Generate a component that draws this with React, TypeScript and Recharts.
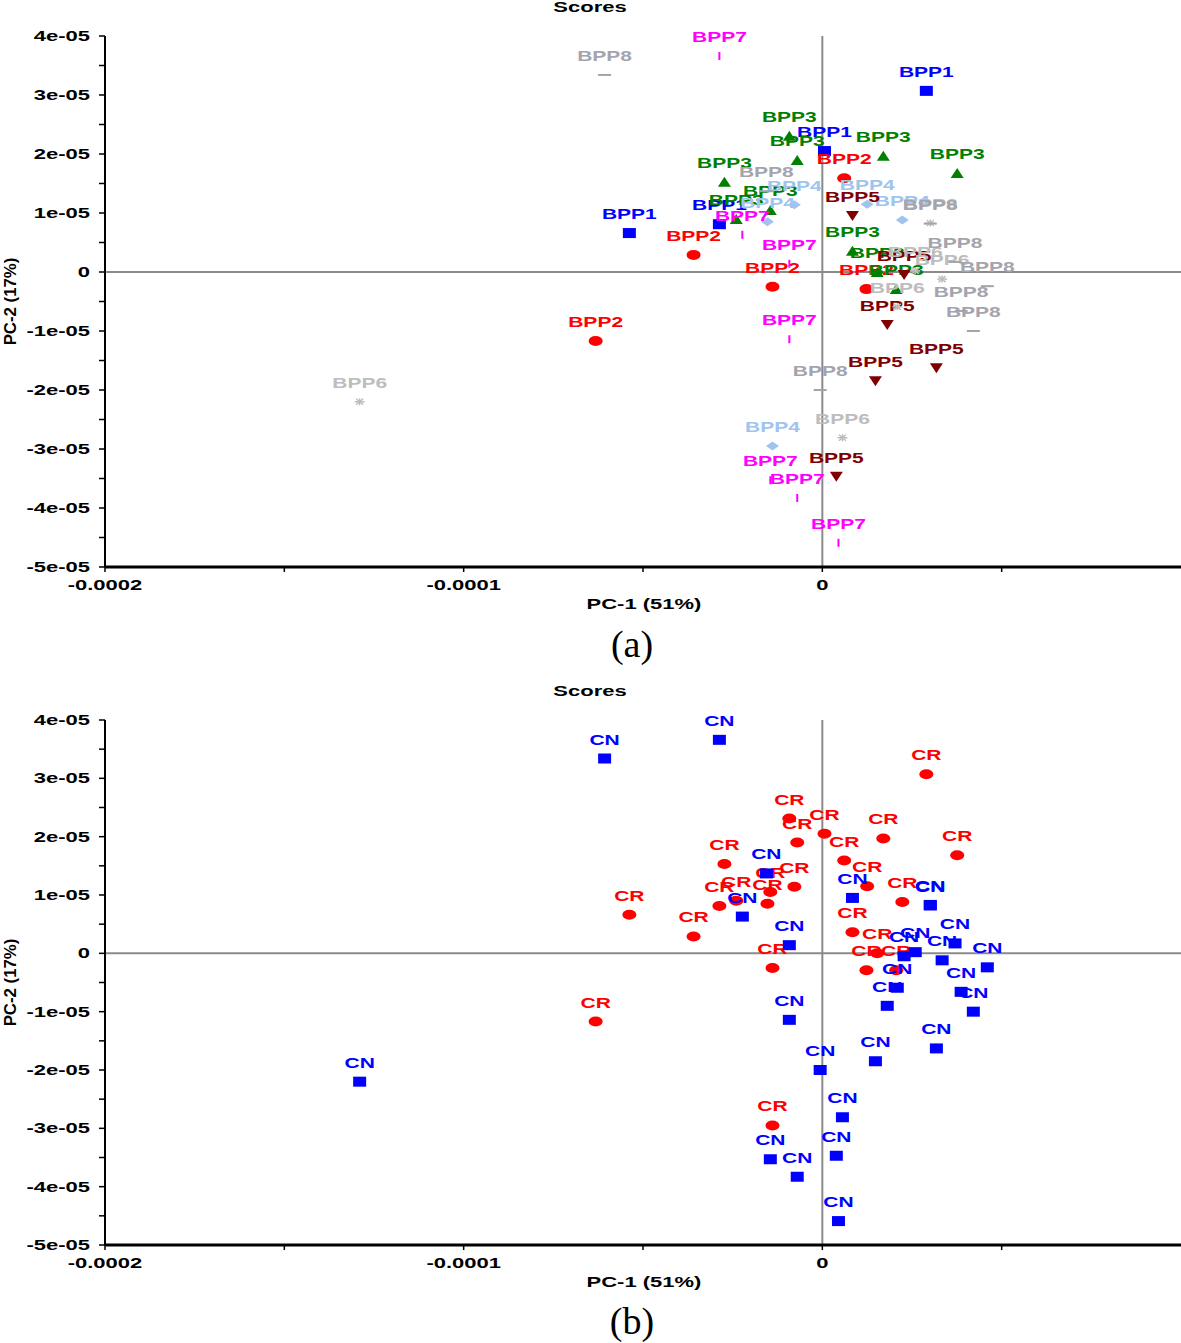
import React from "react";
import { ScatterChart, Scatter, XAxis, YAxis, ReferenceLine } from "recharts";

type Pt = { x: number; y: number };

const bpp1: Pt[] = [
  { x: 2.9e-5, y: 3.07e-5 },
  { x: 0.06e-5, y: 2.05e-5 },
  { x: -5.38e-5, y: 0.66e-5 },
  { x: -2.87e-5, y: 0.81e-5 },
];
const bpp2: Pt[] = [
  { x: 0.61e-5, y: 1.59e-5 },
  { x: -3.59e-5, y: 0.29e-5 },
  { x: -1.39e-5, y: -0.25e-5 },
  { x: -6.32e-5, y: -1.17e-5 },
  { x: 1.23e-5, y: -0.29e-5 },
];
const bpp3: Pt[] = [
  { x: -0.92e-5, y: 2.31e-5 },
  { x: -0.7e-5, y: 1.9e-5 },
  { x: 1.7e-5, y: 1.97e-5 },
  { x: 3.76e-5, y: 1.68e-5 },
  { x: -2.73e-5, y: 1.53e-5 },
  { x: -1.45e-5, y: 1.05e-5 },
  { x: -2.4e-5, y: 0.9e-5 },
  { x: 0.84e-5, y: 0.36e-5 },
  { x: 1.53e-5, y: 0.0 },
  { x: 2.06e-5, y: -0.29e-5 },
];
const bpp4: Pt[] = [
  { x: -0.78e-5, y: 1.14e-5 },
  { x: -1.53e-5, y: 0.85e-5 },
  { x: 1.25e-5, y: 1.15e-5 },
  { x: 2.23e-5, y: 0.88e-5 },
  { x: -1.39e-5, y: -2.95e-5 },
];
const bpp5: Pt[] = [
  { x: 0.84e-5, y: 0.95e-5 },
  { x: 2.28e-5, y: -0.05e-5 },
  { x: 1.81e-5, y: -0.9e-5 },
  { x: 3.18e-5, y: -1.63e-5 },
  { x: 1.48e-5, y: -1.85e-5 },
  { x: 0.39e-5, y: -3.47e-5 },
];
const bpp6: Pt[] = [
  { x: -12.9e-5, y: -2.2e-5 },
  { x: 0.56e-5, y: -2.81e-5 },
  { x: 3.34e-5, y: -0.12e-5 },
  { x: 3.01e-5, y: 0.83e-5 },
  { x: 2.09e-5, y: -0.59e-5 },
  { x: 2.59e-5, y: 0.02e-5 },
];
const bpp7: Pt[] = [
  { x: -2.87e-5, y: 3.66e-5 },
  { x: -2.23e-5, y: 0.63e-5 },
  { x: -0.92e-5, y: 0.14e-5 },
  { x: -0.92e-5, y: -1.14e-5 },
  { x: -1.45e-5, y: -3.53e-5 },
  { x: -0.7e-5, y: -3.83e-5 },
  { x: 0.45e-5, y: -4.59e-5 },
];
const bpp8: Pt[] = [
  { x: -6.07e-5, y: 3.34e-5 },
  { x: -1.56e-5, y: 1.37e-5 },
  { x: -0.06e-5, y: -2.0e-5 },
  { x: 4.21e-5, y: -1.0e-5 },
  { x: 4.6e-5, y: -0.24e-5 },
  { x: 3.87e-5, y: -0.66e-5 },
  { x: 3.7e-5, y: 0.17e-5 },
  { x: 3.01e-5, y: 0.82e-5 },
];

const xTicks = [-0.0002, -0.00015, -0.0001, -0.00005, 0, 0.00005];
const xTickLabels = ["-0.0002", "", "-0.0001", "", "0", ""];
const yTicks = [
  -5e-5, -4.5e-5, -4e-5, -3.5e-5, -3e-5, -2.5e-5, -2e-5, -1.5e-5, -1e-5, -0.5e-5,
  0, 0.5e-5, 1e-5, 1.5e-5, 2e-5, 2.5e-5, 3e-5, 3.5e-5, 4e-5,
];
const yTickLabels = [
  "-5e-05", "", "-4e-05", "", "-3e-05", "", "-2e-05", "", "-1e-05", "",
  "0", "", "1e-05", "", "2e-05", "", "3e-05", "", "4e-05",
];

type Mark = "square" | "circle" | "up" | "down" | "diamond" | "star" | "vbar" | "hbar";
type Series = { name: string; data: Pt[]; color: string; mark: Mark };

const bppSeries: Series[] = [
  { name: "BPP1", data: bpp1, color: "#0000ff", mark: "square" },
  { name: "BPP2", data: bpp2, color: "#ff0000", mark: "circle" },
  { name: "BPP3", data: bpp3, color: "#008000", mark: "up" },
  { name: "BPP4", data: bpp4, color: "#9fc4ee", mark: "diamond" },
  { name: "BPP5", data: bpp5, color: "#800000", mark: "down" },
  { name: "BPP6", data: bpp6, color: "#bdbdbd", mark: "star" },
  { name: "BPP7", data: bpp7, color: "#ff00ff", mark: "vbar" },
  { name: "BPP8", data: bpp8, color: "#a4a4ae", mark: "hbar" },
];

const groupSeries: Series[] = [
  { name: "CR", data: [...bpp1, ...bpp2, ...bpp3, ...bpp4], color: "#ff0000", mark: "circle" },
  { name: "CN", data: [...bpp5, ...bpp6, ...bpp7, ...bpp8], color: "#0000ff", mark: "square" },
];

const FONT = "'Liberation Sans', Arial, sans-serif";

// arial bold advance widths (1/1000 em), the picture is stretched sideways
const adv: Record<string, number> = {
  B: 722, P: 667, C: 722, N: 722, R: 722, S: 667, c: 556, o: 611, r: 389,
  e: 556, s: 556, "-": 333, ".": 278, " ": 278, "(": 333, ")": 333, "%": 889,
};
function textW(s: string, size: number, stretch: number) {
  let w = 0;
  for (const ch of s) w += adv[ch] ?? 556;
  return (w / 1000) * size * stretch;
}

function Wide({ x, y, text, size = 14, stretch = 1.57, anchor = "middle", fill = "#000", rotate }: any) {
  return (
    <text
      x={x}
      y={y}
      textAnchor={anchor}
      fontFamily={FONT}
      fontWeight="bold"
      fontSize={size}
      fill={fill}
      textLength={textW(text, size, stretch)}
      lengthAdjust="spacingAndGlyphs"
      transform={rotate ? `rotate(${rotate} ${x} ${y})` : undefined}
    >
      {text}
    </text>
  );
}

function drawMark(mark: Mark, cx: number, cy: number, c: string) {
  switch (mark) {
    case "square":
      return <rect x={cx - 6.5} y={cy - 5} width={13} height={10} fill={c} />;
    case "circle":
      return <ellipse cx={cx} cy={cy} rx={7} ry={5} fill={c} />;
    case "up":
      return <polygon points={`${cx - 6.5},${cy + 5} ${cx + 6.5},${cy + 5} ${cx},${cy - 5}`} fill={c} />;
    case "down":
      return <polygon points={`${cx - 6.5},${cy - 5} ${cx + 6.5},${cy - 5} ${cx},${cy + 5}`} fill={c} />;
    case "diamond":
      return <polygon points={`${cx - 6.5},${cy} ${cx},${cy - 4.5} ${cx + 6.5},${cy} ${cx},${cy + 4.5}`} fill={c} />;
    case "star":
      return (
        <g stroke={c} strokeWidth={1.5}>
          <line x1={cx - 5} y1={cy} x2={cx + 5} y2={cy} />
          <line x1={cx} y1={cy - 3.5} x2={cx} y2={cy + 3.5} />
          <line x1={cx - 3.5} y1={cy - 3} x2={cx + 3.5} y2={cy + 3} />
          <line x1={cx - 3.5} y1={cy + 3} x2={cx + 3.5} y2={cy - 3} />
        </g>
      );
    case "vbar":
      return <rect x={cx - 1} y={cy - 4} width={2} height={8} fill={c} />;
    case "hbar":
      return <rect x={cx - 6.5} y={cy - 1} width={13} height={2} fill={c} />;
  }
}

function makeShape(s: Series) {
  return (p: any) => (
    <g>
      {drawMark(s.mark, p.cx, p.cy, s.color)}
      <Wide x={p.cx} y={p.cy - 14} text={s.name} stretch={1.5} fill={s.color} />
    </g>
  );
}

function XTick(props: any) {
  const { x, y, payload } = props;
  const i = xTicks.findIndex((t) => Math.abs(t - payload.value) < 1e-12);
  const label = i >= 0 ? xTickLabels[i] : "";
  if (!label) return null;
  return <Wide x={x} y={y + 16} text={label} />;
}

function YTick(props: any) {
  const { x, y, payload } = props;
  const i = yTicks.findIndex((t) => Math.abs(t - payload.value) < 1e-12);
  const label = i >= 0 ? yTickLabels[i] : "";
  if (!label) return null;
  return <Wide x={x - 7} y={y + 5} text={label} anchor="end" />;
}

function ScorePlot({ top, height, series }: { top: number; height: number; series: Series[] }) {
  const plotTop = 36;
  const plotBottom = height - 23 - 30;
  const titles = () => (
    <g>
      <Wide x={590} y={12} text="Scores" />
      <Wide x={644} y={plotBottom + 42} text="PC-1 (51%)" />
      <Wide x={16} y={(plotTop + plotBottom) / 2} text="PC-2 (17%)" size={16} stretch={1.05} rotate={-90} />
    </g>
  );
  return (
    <div style={{ position: "absolute", left: 0, top }}>
      <ScatterChart width={1181} height={height} margin={{ top: plotTop, right: 0, bottom: 23, left: 0 }}>
        <XAxis
          type="number"
          dataKey="x"
          domain={[-0.0002, 0.0001]}
          ticks={xTicks}
          interval={0}
          height={30}
          tickSize={5}
          tickMargin={2}
          axisLine={{ stroke: "#000", strokeWidth: 3 }}
          tickLine={{ stroke: "#000", strokeWidth: 1.5 }}
          tick={<XTick />}
          label={{ content: titles }}
        />
        <YAxis
          type="number"
          dataKey="y"
          domain={[-5e-5, 4e-5]}
          ticks={yTicks}
          interval={0}
          width={105}
          tickSize={6}
          tickMargin={2}
          axisLine={{ stroke: "#000", strokeWidth: 2 }}
          tickLine={{ stroke: "#000", strokeWidth: 1.5 }}
          tick={<YTick />}
        />
        <ReferenceLine x={0} stroke="#8a8a8a" strokeWidth={2} />
        <ReferenceLine y={0} stroke="#8a8a8a" strokeWidth={2} />
        {series.map((s) => (
          <Scatter key={s.name} name={s.name} data={s.data} shape={makeShape(s)} isAnimationActive={false} />
        ))}
      </ScatterChart>
    </div>
  );
}

const panelLabel: React.CSSProperties = {
  position: "absolute",
  left: 532,
  width: 200,
  textAlign: "center",
  fontFamily: "'Liberation Serif', 'Times New Roman', serif",
  fontSize: 38,
  lineHeight: "40px",
};

export default function App() {
  return (
    <div style={{ position: "absolute", left: 0, top: 0, width: 1181, height: 1343, background: "#fff", overflow: "hidden" }}>
      <ScorePlot top={0} height={620} series={bppSeries} />
      <div style={{ ...panelLabel, top: 624 }}>(a)</div>
      <ScorePlot top={684} height={614} series={groupSeries} />
      <div style={{ ...panelLabel, top: 1301 }}>(b)</div>
    </div>
  );
}
